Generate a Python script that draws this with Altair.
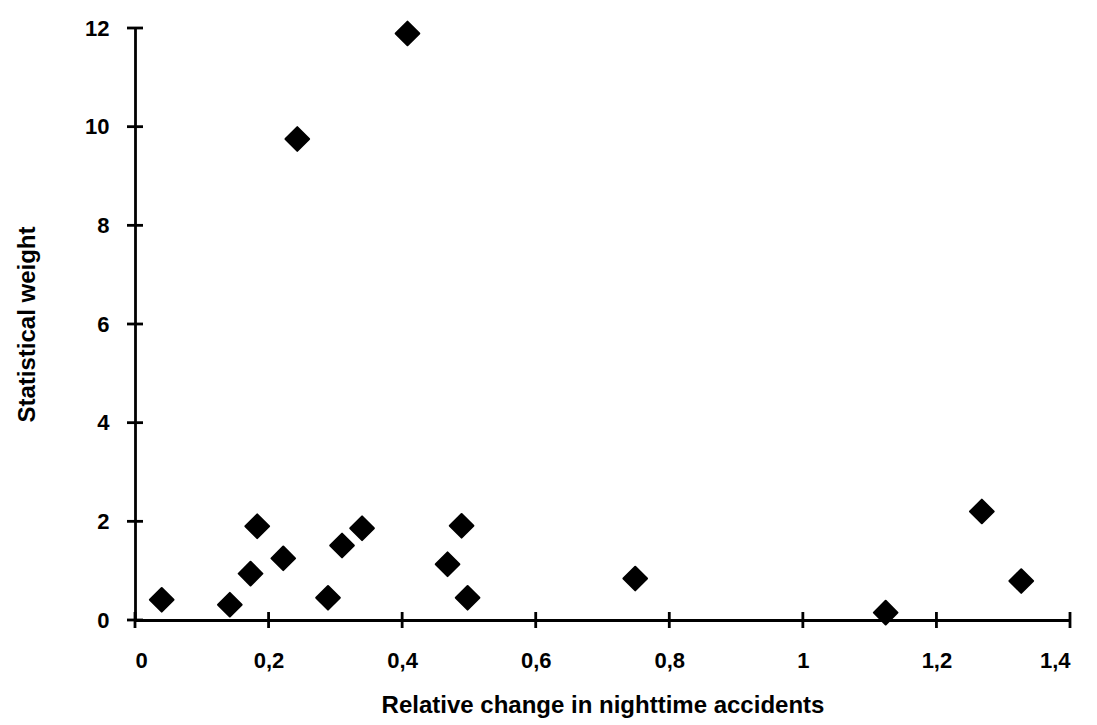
import altair as alt
import pandas as pd

# Data
rel_change = [0.040, 0.142, 0.173, 0.183, 0.222, 0.243, 0.289, 0.310, 0.340,
              0.408, 0.468, 0.489, 0.498, 0.749, 1.124, 1.268, 1.327]
stat_weight = [0.41, 0.31, 0.94, 1.90, 1.25, 9.75, 0.45, 1.51, 1.86,
               11.89, 1.13, 1.91, 0.45, 0.84, 0.15, 2.20, 0.79]
x_tick_values = [0, 0.2, 0.4, 0.6, 0.8, 1.0, 1.2, 1.4]
y_tick_values = [0, 2, 4, 6, 8, 10, 12]

points = pd.DataFrame({"x": rel_change, "y": stat_weight})
xt = pd.DataFrame({"x": x_tick_values, "y": [0] * len(x_tick_values)})
yt = pd.DataFrame({"x": [0] * len(y_tick_values), "y": y_tick_values})

FONT = "Liberation Sans"

x_scale = alt.Scale(domain=[0, 1.4], nice=False, zero=False)
y_scale = alt.Scale(domain=[0, 12], nice=False, zero=False)

x_axis = alt.Axis(
    values=x_tick_values,
    title="Relative change in nighttime accidents",
    labelExpr="replace(format(datum.value, '.1~f'), '.', ',')",
    grid=False, ticks=False, domain=True, domainColor="black", domainWidth=2.8,
    labelFont=FONT, labelFontSize=22, labelFontWeight="bold", labelColor="black",
    labelPadding=30, titleFont=FONT, titleFontSize=24, titleFontWeight="bold",
    titleColor="black", titlePadding=22,
)
y_axis = alt.Axis(
    values=y_tick_values,
    title="Statistical weight",
    grid=False, ticks=False, domain=True, domainColor="black", domainWidth=2.8,
    labelFont=FONT, labelFontSize=22, labelFontWeight="bold", labelColor="black",
    labelPadding=26, titleFont=FONT, titleFontSize=24, titleFontWeight="bold",
    titleColor="black", titlePadding=45,
)

x_enc = alt.X("x:Q", scale=x_scale, axis=x_axis)
y_enc = alt.Y("y:Q", scale=y_scale, axis=y_axis)

pts = alt.Chart(points).mark_point(
    shape="diamond", filled=True, size=560, color="black", opacity=1,
    stroke="black", strokeWidth=2, strokeJoin="round",
).encode(x=x_enc, y=y_enc)

xticks = alt.Chart(xt).mark_tick(
    orient="vertical", size=16, thickness=2.8, color="black", opacity=1
).encode(x=x_enc, y=y_enc)

yticks = alt.Chart(yt).mark_tick(
    orient="horizontal", size=16, thickness=2.8, color="black", opacity=1
).encode(x=x_enc, y=y_enc)

chart = alt.layer(pts, xticks, yticks).properties(
    width=935, height=592,
    autosize="none",
    padding={"left": 135, "top": 28, "right": 27, "bottom": 105},
    background="white",
).configure_view(stroke=None)

chart.save("out.html", embed_options={"renderer": "svg", "actions": False})
